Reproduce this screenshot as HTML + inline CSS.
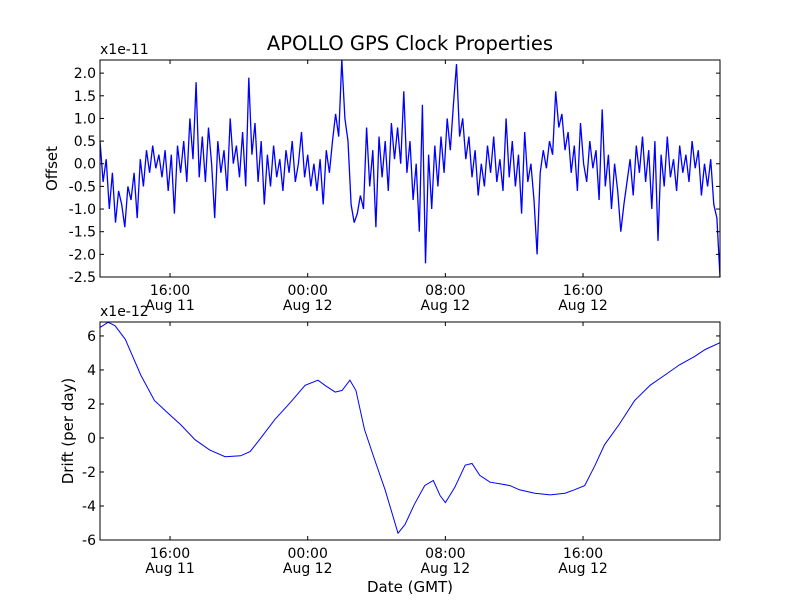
<!DOCTYPE html>
<html><head><meta charset="utf-8"><style>
body{margin:0;background:#fff}
svg{display:block;font-family:"DejaVu Sans","Liberation Sans",sans-serif}
</style></head><body>
<svg id="chart" width="800" height="600" xmlns="http://www.w3.org/2000/svg">
<rect width="800" height="600" fill="#fff"/>
<text x="410" y="50" font-size="19.5" text-anchor="middle">APOLLO GPS Clock Properties</text>
<g id="top"></g>
<g id="bot"></g>
<text x="410" y="592" font-size="15" text-anchor="middle">Date (GMT)</text>
</svg>
<script>
const offsetValues=[0.5,-0.4,0.1,-1.0,-0.2,-1.3,-0.6,-0.9,-1.4,-0.5,
-0.8,-0.2,-1.2,0.1,-0.5,0.3,-0.2,0.4,-0.1,0.2,
-0.3,0.3,-0.6,0.2,-1.1,0.4,-0.2,0.5,-0.4,1.0,
0.1,1.8,-0.3,0.6,-0.4,0.8,0.0,-1.2,0.5,-0.2,
0.3,-0.6,1.0,0.0,0.4,-0.3,0.7,-0.5,1.9,0.2,
0.9,-0.4,0.5,-0.9,0.2,-0.5,0.4,-0.3,0.1,-0.6,
0.3,-0.2,0.5,-0.4,0.0,0.7,-0.3,0.2,-0.5,0.0,
-0.6,0.1,-0.9,0.3,-0.2,0.5,1.1,0.6,2.3,1.0,
0.5,-0.9,-1.3,-1.1,-0.7,-1.0,0.8,-0.5,0.3,-1.4,
0.6,-0.3,0.5,-0.6,0.9,0.1,0.8,0.0,1.6,-0.2,
0.5,-0.8,0.0,-1.5,1.3,-2.2,0.2,-1.0,0.4,-0.5,
0.6,-0.2,1.0,0.3,1.3,2.2,0.6,1.0,0.1,0.6,
-0.3,0.3,-0.7,0.0,-0.5,0.4,-0.2,0.6,-0.4,0.1,
-0.6,1.0,-0.3,0.5,-0.5,0.2,-1.1,0.7,-0.4,0.0,
-0.8,-2.0,-0.2,0.3,-0.1,0.5,0.2,1.6,0.8,1.1,
0.3,0.7,-0.2,0.4,-0.6,0.9,0.0,-0.4,0.5,-0.1,
0.3,-0.8,1.2,-0.5,0.2,-1.0,0.0,-0.6,-1.5,-0.9,
-0.4,0.1,-0.7,0.4,-0.2,0.6,-0.4,0.3,-1.0,0.5,
-1.7,0.2,-0.5,0.6,-0.3,0.1,-0.6,0.4,-0.2,0.2,
-0.4,0.5,-0.1,0.3,-0.7,0.0,-0.5,0.1,-0.9,-1.2,-2.5];
const driftHours=[11.93,12.4,12.8,13.4,14.3,15.1,16.0,16.6,17.45,18.3,19.2,20.1,20.65,21.2,22.1,23.0,23.85,24.6,25.0,25.6,26.0,26.45,26.8,27.3,27.9,28.5,29.25,29.65,30.2,30.8,31.3,31.7,32.0,32.55,33.15,33.55,34.0,34.6,35.2,35.75,36.3,37.2,38.1,38.95,39.5,40.1,40.7,41.25,42.1,43.0,43.9,44.75,45.6,46.5,47.1,47.96];
const driftValues=[6.5,6.8,6.6,5.8,3.7,2.2,1.35,0.8,-0.1,-0.7,-1.1,-1.05,-0.8,-0.1,1.1,2.1,3.1,3.4,3.1,2.7,2.8,3.4,2.8,0.5,-1.3,-3.05,-5.6,-5.1,-3.9,-2.8,-2.5,-3.4,-3.8,-2.9,-1.6,-1.5,-2.2,-2.6,-2.7,-2.8,-3.05,-3.25,-3.35,-3.25,-3.05,-2.8,-1.6,-0.4,0.8,2.2,3.1,3.7,4.3,4.8,5.2,5.6];
const offsetTicks=[2.0,1.5,1.0,0.5,0.0,-0.5,-1.0,-1.5,-2.0,-2.5];
const driftTicks=[6,4,2,0,-2,-4,-6];
const xTickHours=[16,24,32,40];
const xTickTime=["16:00","00:00","08:00","16:00"];
const xTickDate=["Aug 11","Aug 12","Aug 12","Aug 12"];
const X0=100,X1=720,H0=11.93,H1=47.96;
const NS="http://www.w3.org/2000/svg";
function xs(h){return X0+(h-H0)/(H1-H0)*(X1-X0);}
function mk(t,a,p){const e=document.createElementNS(NS,t);for(const k in a)e.setAttribute(k,a[k]);p.appendChild(e);return e;}
function panel(g,top,bot,vmin,vmax,ticks,fmt,label,exp,hs,vs,sw){
  const ys=v=>bot-(v-vmin)/(vmax-vmin)*(bot-top);
  let d="";for(let i=0;i<vs.length;i++)d+=(i?"L":"M")+xs(hs[i]).toFixed(1)+","+ys(vs[i]).toFixed(1);
  const ln=mk("path",{d:d,fill:"none",stroke:"#0000ff","stroke-width":sw},g);
  
  
  const fr=mk("rect",{x:X0,y:top,width:X1-X0,height:bot-top,fill:"none",stroke:"#000","stroke-width":1},g);
  
  
  ticks.forEach(v=>{const y=ys(v);
    mk("line",{x1:X0,x2:X0+4,y1:y,y2:y,stroke:"#000"},g);mk("line",{x1:X1-4,x2:X1,y1:y,y2:y,stroke:"#000"},g);
    const t=mk("text",{x:X0-4,y:y+5,"font-size":14,"text-anchor":"end"},g);t.textContent=fmt(v);
    
    });
  xTickHours.forEach((h,i)=>{const x=xs(h);
    mk("line",{x1:x,x2:x,y1:bot,y2:bot-4,stroke:"#000"},g);mk("line",{x1:x,x2:x,y1:top,y2:top+4,stroke:"#000"},g);
    const a=mk("text",{x:x,y:bot+18,"font-size":14,"text-anchor":"middle"},g);a.textContent=xTickTime[i];
    
    
    const b=mk("text",{x:x,y:bot+33,"font-size":14,"text-anchor":"middle"},g);b.textContent=xTickDate[i];
    
    });
  const e=mk("text",{x:X0,y:top-6,"font-size":14},g);e.textContent=exp;
  
  
  const cy=(top+bot)/2;
  const l=mk("text",{x:0,y:0,"font-size":15,"text-anchor":"middle",transform:"translate("+(label[1])+","+cy+") rotate(-90)"},g);l.textContent=label[0];
  
  
}
const offHours=offsetValues.map((v,i)=>H0+i*(H1-H0)/(offsetValues.length-1));
panel(document.getElementById("top"),60,277,-2.5,2.29,offsetTicks,v=>v.toFixed(1),["Offset",57],"x1e-11",offHours,offsetValues,1.3);
panel(document.getElementById("bot"),322,540,-6,6.82,driftTicks,v=>String(v),["Drift (per day)",73],"x1e-12",driftHours,driftValues,1);
</script>
</body></html>
